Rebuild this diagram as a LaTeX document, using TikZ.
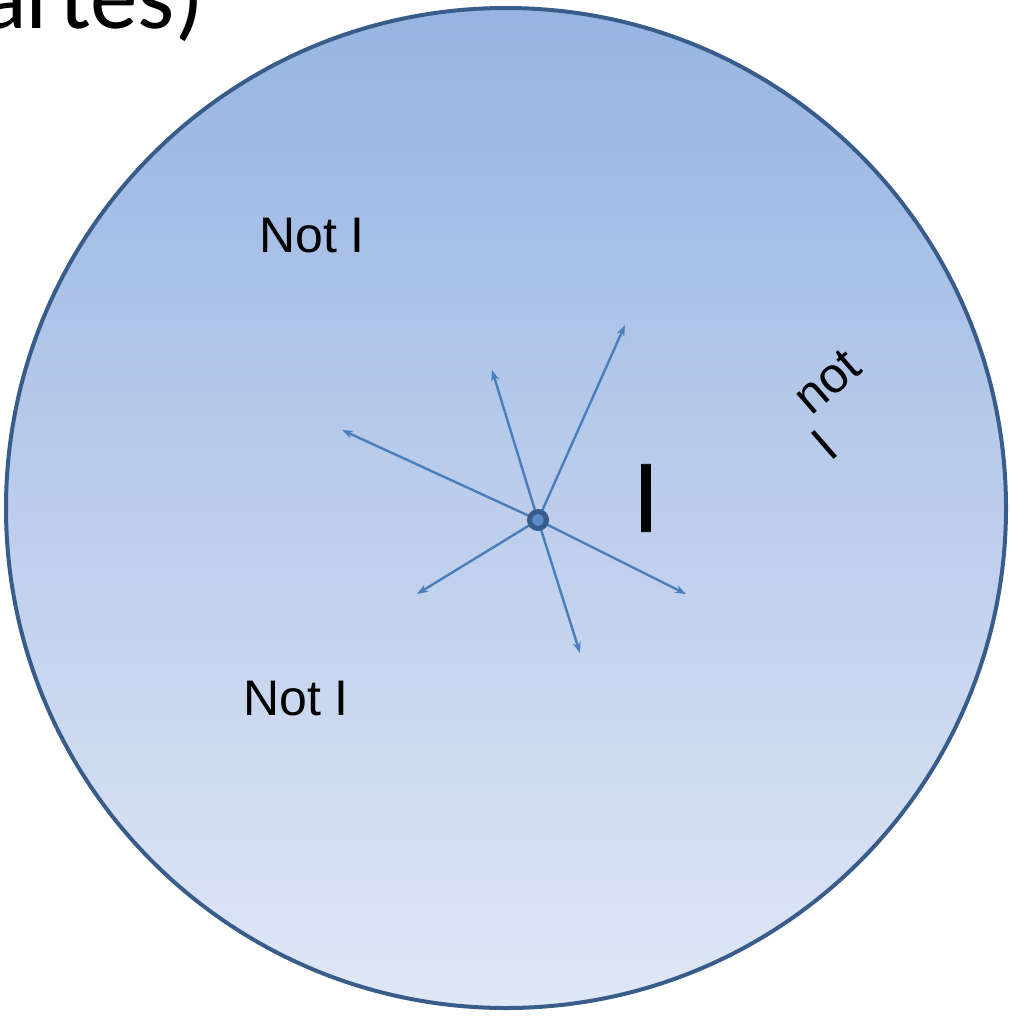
\documentclass[tikz,border=0pt]{standalone}
\usepackage{fontspec}
\setmainfont{Liberation Sans}
\newfontfamily\titlefont{Carlito}
\newfontfamily\heavyfont{Liberation Sans}[FakeBold=0.8]
\usetikzlibrary{arrows.meta}

\definecolor{diskedge}{HTML}{385D8A}
\definecolor{disktop}{HTML}{97B4E2}
\definecolor{diskbottom}{HTML}{E0E7F5}
\definecolor{raycolor}{HTML}{4A7EBB}
\definecolor{hubfill}{HTML}{5A8CC8}

\begin{document}
\begin{tikzpicture}[
    x=1pt, y=-1pt,
    disk/.style={
        circle,
        draw=diskedge,
        line width=4pt,
        top color=disktop,
        bottom color=diskbottom,
        minimum size=1000pt,
        inner sep=0pt
    },
    hub/.style={
        circle,
        draw=diskedge,
        line width=5pt,
        fill=hubfill,
        minimum size=17pt,
        inner sep=0pt
    },
    tag/.style={
        font=\fontsize{50}{60}\selectfont,
        inner sep=0pt
    },
    ray/.style={
        draw=raycolor,
        line width=2.4pt,
        -{Stealth[length=11pt,width=8pt]}
    }
]
    \useasboundingbox (0,0) rectangle (1009,1017);

    \node[disk] (world) at (506,508) {};
    \node[anchor=base east, inner sep=0pt,
          font=\titlefont\fontsize{95}{100}\selectfont] (title) at (204,28) {artes)};

    \coordinate (centre) at (538,520);
    \foreach \name/\x/\y in {
        upleft/342/430,
        up/492/370,
        upright/625/325,
        downright/686/594,
        down/580/653,
        downleft/417/594%
    } {
        \coordinate (\name) at (\x,\y);
        \draw[ray] (centre) -- (\name);
    }
    \node[hub] (self) at (centre) {};

    \node[tag] (notupper) at (312,236) {Not I};
    \node[tag] (notlower) at (296,699) {Not I};
    \node[inner sep=0pt, font=\heavyfont\fontsize{98}{110}\selectfont] (me) at (646,498) {I};
    \node[tag, rotate=41] (notrim) at (827,382) {not};
    \node[tag, rotate=41] (rimme) at (824,445) {I};
\end{tikzpicture}
\end{document}
